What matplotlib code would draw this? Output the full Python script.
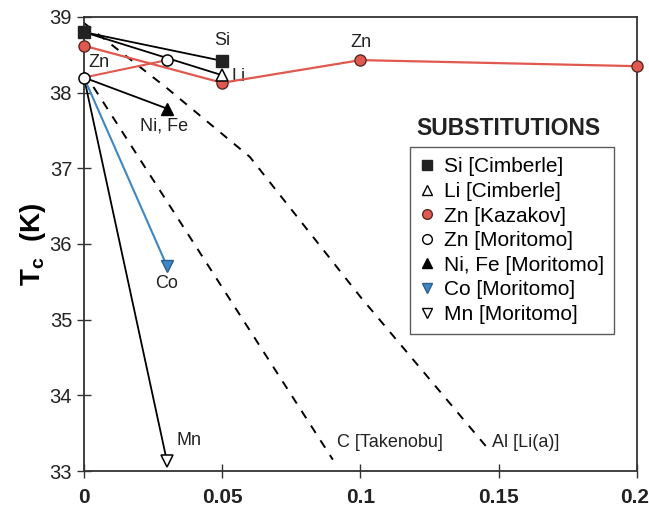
"""Tc of MgB2 versus substitution level, several dopants"""

import matplotlib
matplotlib.use("Agg")
import matplotlib.pyplot as plt
import matplotlib.transforms as mtransforms
from matplotlib.lines import Line2D

plt.rcParams['font.family'] = ['Liberation Sans', 'DejaVu Sans']
plt.rcParams['mathtext.fontset'] = 'custom'
plt.rcParams['mathtext.rm'] = 'Liberation Sans'
plt.rcParams['mathtext.bf'] = 'Liberation Sans:bold'

# data (x = substitution level, y = Tc in K)
si_x = [0, 0.05]
si_y = [38.80, 38.42]
li_x = [0, 0.05]
li_y = [38.80, 38.23]
zn_kaz_x = [0, 0.05, 0.1, 0.2]
zn_kaz_y = [38.62, 38.13, 38.43, 38.35]
zn_mor_x = [0, 0.03]
zn_mor_y = [38.20, 38.43]
nife_x = [0, 0.03]
nife_y = [38.20, 37.79]
co_x = [0, 0.03]
co_y = [38.20, 35.71]
mn_x = [0, 0.03]
mn_y = [38.20, 33.13]
c_tak_x = [0, 0.09]
c_tak_y = [38.27, 33.15]
al_li_x = [0, 0.03, 0.06, 0.1, 0.146]
al_li_y = [38.92, 38.06, 37.15, 35.30, 33.30]

x_ticks = [0, 0.05, 0.1, 0.15, 0.2]
x_tick_labels = ['0', '0.05', '0.1', '0.15', '0.2']
y_ticks = [33, 34, 35, 36, 37, 38, 39]

RED = '#e0584e'
BLUE = '#3f86c4'

fig = plt.figure(figsize=(6.49, 5.07), dpi=100)
ax = fig.add_axes([0.1294, 0.071, 0.8521, 0.8955])

# dashed trends (no markers)
ax.plot(c_tak_x, c_tak_y, color='black', lw=1.4, ls=(0, (4.5, 4.5)))
ax.plot(al_li_x, al_li_y, color='black', lw=1.4, ls=(0, (4.5, 4.5)))

# Moritomo series
ax.plot(mn_x, mn_y, color='black', lw=1.3)
ax.plot(mn_x[1:], mn_y[1:], ls='none', marker='v', ms=8, mfc='white', mec='black', mew=1.1)
ax.plot(co_x, co_y, color=BLUE, lw=1.5)
ax.plot(co_x[1:], co_y[1:], ls='none', marker='v', ms=8, mfc=BLUE, mec='#2b5f8f', mew=1.0)
ax.plot(nife_x, nife_y, color='black', lw=1.3)
ax.plot(nife_x[1:], nife_y[1:], ls='none', marker='^', ms=8, color='black')

# Cimberle series
ax.plot(li_x, li_y, color='black', lw=1.3)
ax.plot(si_x, si_y, color='black', lw=1.3)

# Zn series
ax.plot(zn_mor_x, zn_mor_y, color=RED, lw=1.5)
ax.plot(zn_kaz_x, zn_kaz_y, color=RED, lw=1.6, marker='o', ms=8,
        mfc=RED, mec='#5a2a26', mew=1.0, clip_on=False, zorder=5)
ax.plot(zn_mor_x, zn_mor_y, ls='none', marker='o', ms=8, mfc='white',
        mec='black', mew=1.1, clip_on=False, zorder=6)
ax.plot(li_x[1:], li_y[1:], ls='none', marker='^', ms=8, mfc='white',
        mec='black', mew=1.1, zorder=6)
ax.plot(si_x, si_y, ls='none', marker='s', ms=8, color='#222222',
        clip_on=False, zorder=7)

# point labels
lbl = dict(fontsize=13, color='#222222')
ax.text(si_x[1], 38.58, 'Si', ha='center', va='bottom', **lbl)
ax.text(0.0535, li_y[1] - 0.02, 'Li', ha='left', va='center', **lbl)
ax.text(0.0015, 38.40, 'Zn', ha='left', va='center', **lbl)
ax.text(zn_kaz_x[2], 38.55, 'Zn', ha='center', va='bottom', **lbl)
ax.text(nife_x[1] - 0.001, 37.56, 'Ni, Fe', ha='center', va='center', **lbl)
ax.text(co_x[1], 35.48, 'Co', ha='center', va='center', **lbl)
ax.text(0.0335, 33.40, 'Mn', ha='left', va='center', **lbl)
ax.text(0.0915, 33.38, 'C [Takenobu]', ha='left', va='center', **lbl)
ax.text(0.1475, 33.38, 'Al [Li(a)]', ha='left', va='center', **lbl)

ax.text(0.767, 0.755, 'SUBSTITUTIONS', transform=ax.transAxes, ha='center',
        va='center', fontsize=16.5, fontweight='bold', color='#222222')

handles = [
    Line2D([], [], ls='none', marker='s', ms=7, color='#222222'),
    Line2D([], [], ls='none', marker='^', ms=7, mfc='white', mec='black'),
    Line2D([], [], ls='none', marker='o', ms=7, mfc=RED, mec='#5a2a26'),
    Line2D([], [], ls='none', marker='o', ms=7, mfc='white', mec='black'),
    Line2D([], [], ls='none', marker='^', ms=7, color='black'),
    Line2D([], [], ls='none', marker='v', ms=7, mfc=BLUE, mec='#2b5f8f'),
    Line2D([], [], ls='none', marker='v', ms=7, mfc='white', mec='black'),
]
labels = ['Si [Cimberle]', 'Li [Cimberle]', 'Zn [Kazakov]', 'Zn [Moritomo]',
          'Ni, Fe [Moritomo]', 'Co [Moritomo]', 'Mn [Moritomo]']
leg = ax.legend(handles, labels, loc='upper left', bbox_to_anchor=(0.59, 0.714),
                fontsize=15, frameon=True, fancybox=False, handlelength=0.6,
                handletextpad=0.5, labelspacing=0.27, borderpad=0.5,
                borderaxespad=0)
leg.get_frame().set_edgecolor('#333333')
leg.get_frame().set_linewidth(1.0)

ax.set_xlim(0, 0.2)
ax.set_ylim(33, 39)
ax.set_xticks(x_ticks)
ax.set_xticklabels(x_tick_labels, fontsize=15, fontweight='bold')
ax.set_yticks(y_ticks)
ax.tick_params(axis='y', labelsize=14.5)
ax.tick_params(direction='inout', length=10, width=1.0, colors='#333333',
               labelcolor='#222222')
ax.tick_params(axis='x', pad=7)
# last x label sits flush with the right edge, as in the original
last = ax.get_xticklabels()[-1]
last.set_horizontalalignment('right')
last.set_transform(last.get_transform() +
                   mtransforms.ScaledTranslation(9 / 72, 0, fig.dpi_scale_trans))
ax.set_ylabel(r'$\mathbf{T_c}$  (K)', fontsize=20, fontweight='bold', labelpad=1)
for s in ax.spines.values():
    s.set_linewidth(1.3)
    s.set_color('#333333')

fig.savefig('out.png', dpi=100)
